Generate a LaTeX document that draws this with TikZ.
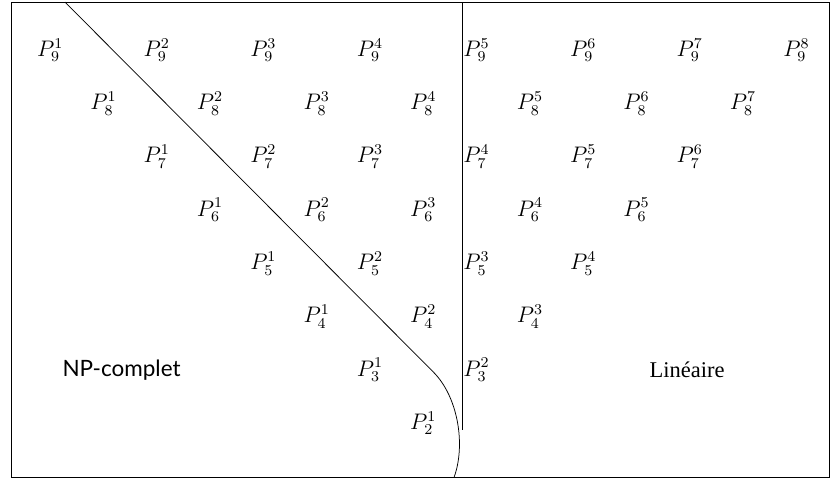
\documentclass[tikz,border=0pt]{standalone}
\usepackage{fontspec}
\newfontfamily\npfont{Lato}
\newfontfamily\linfont{Liberation Serif}
\begin{document}
\begin{tikzpicture}[x=1cm,y=1cm,
  plabel/.style={inner sep=1pt, font=\large},
  region/.style={inner sep=1pt}]
\useasboundingbox (-0.94,0.94) rectangle (14.80,-8.05);
\draw (-0.73,0.9) rectangle (14.62,-8.01);
\foreach \i in {9,...,2}{
  \pgfmathtruncatemacro{\n}{\i-1}
  \foreach \j in {1,...,\n}{
    \node[plabel] (p-\i-\j) at ({9-\i+2*(\j-1)},{-(9-\i)}) {$P_{\i}^{\j}$};
  }
}
\node[region, font=\npfont\large] (np) at (1.34,-6) {NP-complet};
\node[region, font=\linfont\large] (lin) at (11.95,-6) {Linéaire};
\coordinate (dtop) at (0.28,0.9);
\coordinate (dbend) at (7.19,-6.04);
\coordinate (dbot) at (7.58,-8.01);
\draw (dtop) -- (dbend) .. controls (7.65,-6.5) and (7.8,-7.4) .. (dbot);
\coordinate (vtop) at (7.73,0.9);
\coordinate (vbot) at (7.73,-7.13);
\draw (vtop) -- (vbot);
\end{tikzpicture}
\end{document}
